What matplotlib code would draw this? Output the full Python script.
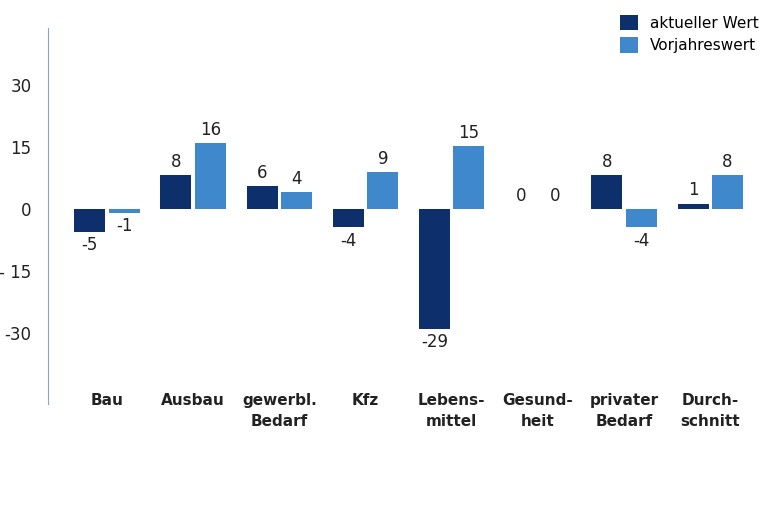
import matplotlib
matplotlib.use("Agg")
import matplotlib.pyplot as plt
import numpy as np

categories = ["Bau", "Ausbau", "gewerbl.\nBedarf", "Kfz", "Lebens-\nmittel", "Gesund-\nheit", "privater\nBedarf", "Durch-\nschnitt"]
aktuell = [-5.5, 8.2, 5.5, -4.5, -29, 0, 8.2, 1.3]
aktuell_lbl = ["-5", "8", "6", "-4", "-29", "0", "8", "1"]
vorjahr = [-1, 16, 4, 9, 15.2, 0, -4.5, 8.2]
vorjahr_lbl = ["-1", "16", "4", "9", "15", "0", "-4", "8"]
yticks = [-30, -15, 0, 15, 30]
ytick_labels = ["-30", "- 15", "0", "15", "30"]

dark = "#0d2f6b"
light = "#3f88cc"

fig = plt.figure(figsize=(7.68, 5.12), dpi=100)
ax = fig.add_axes([0.0625, 0.21, 0.9375, 0.735])
x = np.arange(len(categories))
w = 0.36
off = 0.2
b1 = ax.bar(x - off, aktuell, w, color=dark, label="aktueller Wert")
b2 = ax.bar(x + off, vorjahr, w, color=light, label="Vorjahreswert")
for bars, labels in ((b1, aktuell_lbl), (b2, vorjahr_lbl)):
    for b, l in zip(bars, labels):
        h = b.get_height()
        if h >= 0:
            ax.text(b.get_x() + b.get_width()/2, h + 1, l, ha="center", va="bottom", fontsize=12, color="#222")
        else:
            ax.text(b.get_x() + b.get_width()/2, h - 1, l, ha="center", va="top", fontsize=12, color="#222")

ax.set_xlim(-0.685, 7.67)
ax.set_ylim(-47.4, 43.8)
ax.set_yticks(yticks)
ax.set_yticklabels(ytick_labels, fontsize=12, color="#222")
ax.tick_params(axis="y", length=0, pad=12)
ax.set_xticks([])
for s in ["top", "right", "bottom"]:
    ax.spines[s].set_visible(False)
ax.spines["left"].set_color("#8aa4c8")
for xi, c in zip(x, categories):
    ax.text(xi, -44.5, c, ha="center", va="top", fontsize=11, fontweight="bold", color="#222", linespacing=1.5)
ax.legend(loc="upper right", bbox_to_anchor=(1.0, 1.06), frameon=False, fontsize=11,
          handlelength=1.2, handleheight=1.2, labelspacing=0.4, borderaxespad=0.2)
fig.savefig("out.png", dpi=100)
